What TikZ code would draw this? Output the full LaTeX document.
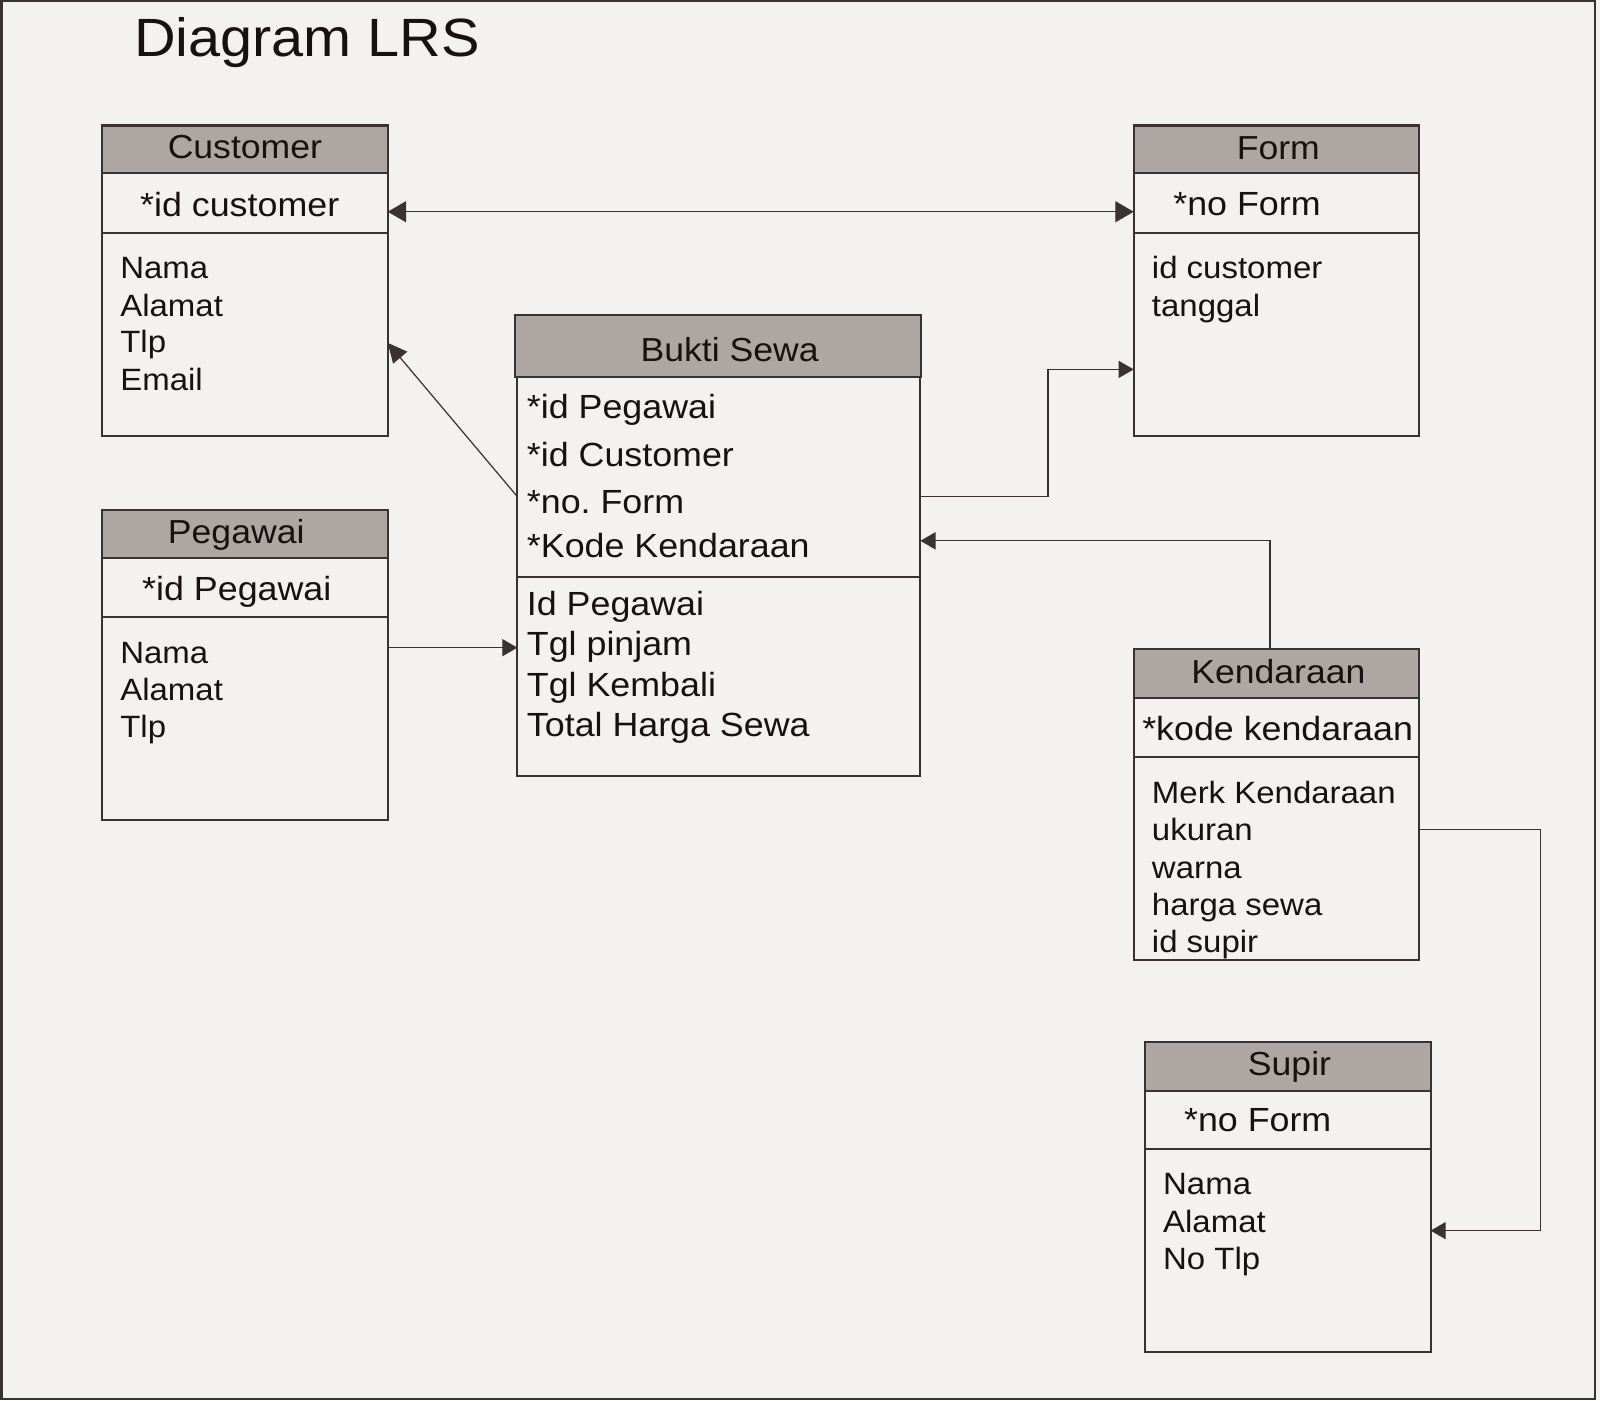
\documentclass[tikz,border=0pt]{standalone}
\usepackage{fontspec}
\setmainfont{Liberation Sans}[FakeStretch=1.07]
\usetikzlibrary{arrows.meta}
\definecolor{bgcol}{RGB}{243,242,240}
\definecolor{hdrcol}{RGB}{173,166,162}
\definecolor{linecol}{RGB}{58,50,50}
\definecolor{txtcol}{RGB}{24,17,17}
\newcommand\fsz[1]{\fontsize{#1}{#1}\selectfont}
\begin{document}
\begin{tikzpicture}[x=0.5pt,y=-0.5pt,
  part/.style={draw=linecol,line width=1pt,inner sep=0pt,outer sep=0pt,anchor=north west,fill=bgcol,minimum width=140pt},
  hdr/.style={part,fill=hdrcol},
  hdrtxt/.style={anchor=base,inner sep=0pt,text=txtcol,font=\fsz{16.3pt}},
  keytxt/.style={anchor=base west,inner sep=0pt,text=txtcol,font=\fsz{16.4pt}},
  bodytxt/.style={anchor=base west,inner sep=0pt,text=txtcol,font=\fsz{15.1pt}},
  buktxt/.style={anchor=base west,inner sep=0pt,text=txtcol,font=\fsz{16.4pt}},
  conn/.style={draw=linecol,line width=0.6pt},
  sarr/.style={-{Triangle[length=7.4pt,width=8.4pt]}},
  darr/.style={-{Triangle[length=9.5pt,width=9pt]}},
  barr/.style={{Triangle[length=9pt,width=10.3pt]}-{Triangle[length=9pt,width=10.3pt]}}]
\useasboundingbox (0,0) rectangle (1568,1372);
\fill[bgcol] (0,0) rectangle (1568,1372);
\draw[linecol,line width=1.1pt] (1.5,1) rectangle (1563,1371);

\node[anchor=base west,inner sep=0pt,text=txtcol,font=\fsz{26.4pt}] (title) at (131,55) {Diagram LRS};

% Customer
\node[hdr,minimum height=23.5pt] (cusH) at (100,123) {};
\node[part,minimum height=29pt] (cusK) at (100,170) {};
\node[part,minimum height=99.5pt] (cusB) at (100,228) {};
\node[hdrtxt] (cusT) at (240,155.2) {Customer};
\node[keytxt] (cusK1) at (137,211.7) {*id customer};
\foreach \t/\yy [count=\i] in {Nama/272.8,Alamat/309.7,Tlp/345.6,Email/382.9}
  \node[bodytxt] (cusB\i) at (117.5,\yy) {\t};

% Form
\node[hdr,minimum height=23.5pt] (frmH) at (1111,123) {};
\node[part,minimum height=29pt] (frmK) at (1111,170) {};
\node[part,minimum height=99.5pt] (frmB) at (1111,228) {};
\node[hdrtxt] (frmT) at (1252.7,156) {Form};
\node[keytxt] (frmK1) at (1149.5,211.4) {*no Form};
\foreach \t/\yy [count=\i] in {id customer/272.8,tanggal/309.7}
  \node[bodytxt] (frmB\i) at (1128.5,\yy) {\t};

% Bukti Sewa
\node[hdr,minimum width=199pt,minimum height=30pt] (bukH) at (505,309) {};
\node[part,minimum width=197.5pt,minimum height=98pt] (bukK) at (507,369) {};
\node[part,minimum width=197.5pt,minimum height=97.5pt] (bukB) at (507,565) {};
\node[hdrtxt] (bukT) at (715,354.4) {Bukti Sewa};
\foreach \t/\yy [count=\i] in {*id Pegawai/410,*id Customer/456.7,*no.\ Form/503,*Kode Kendaraan/546.2}
  \node[buktxt] (bukK\i) at (516,\yy) {\t};
\foreach \t/\yy [count=\i] in {Id Pegawai/602.7,Tgl pinjam/642.6,Tgl Kembali/682.7,Total Harga Sewa/722}
  \node[buktxt] (bukB\i) at (516,\yy) {\t};

% Pegawai
\node[hdr,minimum height=23.5pt] (pegH) at (100,500) {};
\node[part,minimum height=29pt] (pegK) at (100,547) {};
\node[part,minimum height=99.5pt] (pegB) at (100,605) {};
\node[hdrtxt] (pegT) at (231.5,532.5) {Pegawai};
\node[keytxt] (pegK1) at (139,588) {*id Pegawai};
\foreach \t/\yy [count=\i] in {Nama/650,Alamat/686.7,Tlp/722.6}
  \node[bodytxt] (pegB\i) at (117.5,\yy) {\t};

% Kendaraan
\node[hdr,minimum height=24pt] (kenH) at (1111,636) {};
\node[part,minimum height=29pt] (kenK) at (1111,684) {};
\node[part,minimum height=99.5pt] (kenB) at (1111,742) {};
\node[hdrtxt] (kenT) at (1252.8,669.7) {Kendaraan};
\node[keytxt] (kenK1) at (1119,725.2) {*kode kendaraan};
\foreach \t/\yy [count=\i] in {Merk Kendaraan/787.3,ukuran/823.9,warna/860.8,harga sewa/897.4,id supir/933.6}
  \node[bodytxt] (kenB\i) at (1128.5,\yy) {\t};

% Supir
\node[hdr,minimum height=24pt] (supH) at (1122,1021) {};
\node[part,minimum height=28.5pt] (supK) at (1122,1069) {};
\node[part,minimum height=99.5pt] (supB) at (1122,1126) {};
\node[hdrtxt] (supT) at (1263.7,1053.5) {Supir};
\node[keytxt] (supK1) at (1160,1109) {*no Form};
\foreach \t/\yy [count=\i] in {Nama/1171,Alamat/1207.6,No Tlp/1243.6}
  \node[bodytxt] (supB\i) at (1139.5,\yy) {\t};

% connectors
\draw[conn,barr] ([yshift=-4.25pt]cusK.east) -- ([yshift=-4.25pt]frmK.west);
\draw[conn,darr] ([yshift=-9.85pt]bukK.west) -- ([yshift=-4.25pt]cusB.east);
\draw[conn,sarr] ([yshift=-9.85pt]bukK.east) -- ++(62.5pt,0) |- ([yshift=-17.25pt]frmB.west);
\draw[conn,sarr] ([xshift=-3.2pt]kenH.north) |- ([yshift=-31.5pt]bukK.east);
\draw[conn,sarr] ([yshift=34.9pt]pegB.east) -- ([yshift=13.9pt]bukB.west);
\draw[conn,sarr] ([yshift=14.35pt]kenB.east) -- ++(59.25pt,0) |- ([yshift=9.75pt]supB.east);
\end{tikzpicture}
\end{document}
